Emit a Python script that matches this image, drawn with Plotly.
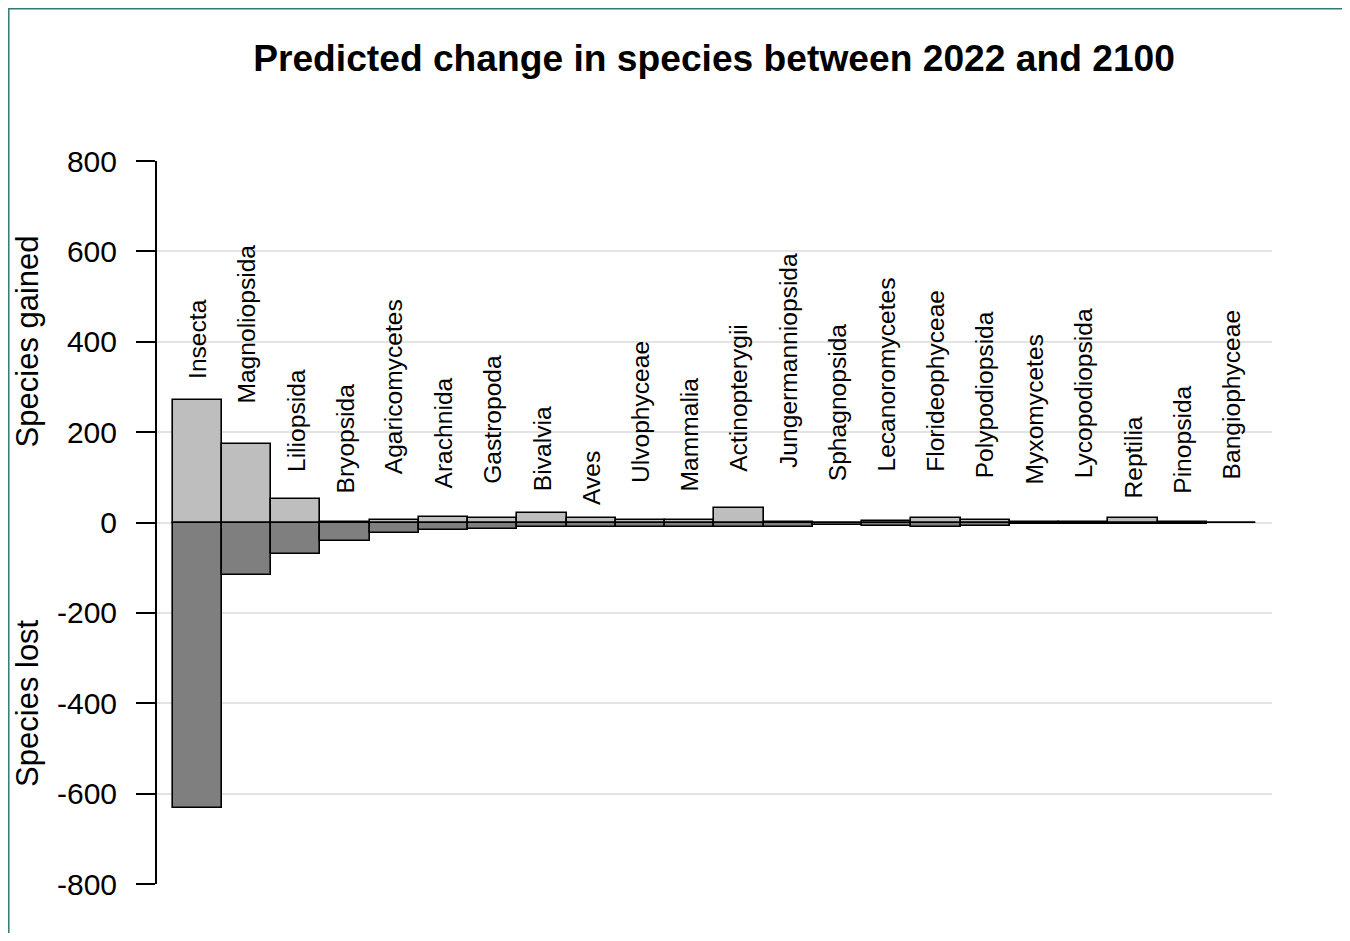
import plotly.graph_objects as go

# ---- data ----
categories = ["Insecta", "Magnoliopsida", "Liliopsida", "Bryopsida", "Agaricomycetes",
              "Arachnida", "Gastropoda", "Bivalvia", "Aves", "Ulvophyceae", "Mammalia",
              "Actinopterygii", "Jungermanniopsida", "Sphagnopsida", "Lecanoromycetes",
              "Florideophyceae", "Polypodiopsida", "Myxomycetes", "Lycopodiopsida",
              "Reptilia", "Pinopsida", "Bangiophyceae"]
species_gained = [271, 174, 53, 1, 5, 13, 11, 20, 10, 5, 6, 31, 2, 0, 4, 11, 5, 1, 1, 9, 2, 0]
species_lost = [-632, -116, -69, -42, -24, -17, -15, -9, -11, -9, -9, -9, -9, -6, -7, -10, -7, -3, -3, -4, -3, -1]
# vertical position (data units) where each rotated category label starts
label_y = [314, 259, 108, 60, 102, 71, 82, 64, 35, 82, 64, 108, 116, 86, 108, 108, 93, 79, 93, 49, 60, 90]
ytick_vals = [-800, -600, -400, -200, 0, 200, 400, 600, 800]
ytick_text = ["-800", "-600", "-400", "-200", "0", "200", "400", "600", "800"]

FONT = "Liberation Sans, Arial, sans-serif"
xpos = list(range(len(categories)))

W, H = 1334, 925
L, R, T, B = 149, 70, 153, 49
PW, PH = W - L - R, H - T - B

fig = go.Figure()
fig.add_trace(go.Bar(x=xpos, y=species_gained, name="Species gained",
                     marker=dict(color="#bebebe", line=dict(color="black", width=1.6)),
                     width=1.0))
fig.add_trace(go.Bar(x=xpos, y=species_lost, name="Species lost",
                     marker=dict(color="#7f7f7f", line=dict(color="black", width=1.6)),
                     width=1.0))

for i, (name, ly) in enumerate(zip(categories, label_y)):
    fig.add_annotation(x=i, y=ly, xref="x", yref="y", text=name, textangle=-90,
                       showarrow=False, xanchor="center", yanchor="bottom",
                       font=dict(family=FONT, size=24.6, color="black"))

fig.add_annotation(x=-0.116, y=400, xref="paper", yref="y", text="Species gained",
                   textangle=-90, showarrow=False, xanchor="center", yanchor="middle",
                   font=dict(family=FONT, size=31, color="black"))
fig.add_annotation(x=-0.116, y=-400, xref="paper", yref="y", text="Species lost",
                   textangle=-90, showarrow=False, xanchor="center", yanchor="middle",
                   font=dict(family=FONT, size=31, color="black"))

# outer frame
fig.add_shape(type="rect", xref="paper", yref="paper",
              x0=(0.8 - L) / PW, x1=(1340 - L) / PW,
              y0=-0.2, y1=(PH + T - 0.8) / PH,
              line=dict(color="#2f7a72", width=1.5),
              fillcolor="white", layer="below")

fig.update_layout(
    width=W, height=H,
    margin=dict(l=L, r=R, t=T, b=B),
    paper_bgcolor="#f0f1ed", plot_bgcolor="rgba(0,0,0,0)",
    barmode="relative", bargap=0, showlegend=False,
    title=dict(text="<b>Predicted change in species between 2022 and 2100</b>",
               x=0.4996, xref="paper", xanchor="center",
               y=1 - 50 / H, yref="container", yanchor="middle",
               font=dict(family=FONT, size=37.2, color="black")),
    font=dict(family=FONT, color="black"),
)
fig.update_xaxes(range=[-0.819, 21.82], showticklabels=False, showgrid=False,
                 zeroline=False, showline=False, ticks="")
fig.update_yaxes(range=[-800, 800], tickvals=ytick_vals, ticktext=ytick_text,
                 showgrid=True, gridcolor="#e3e3e3", gridwidth=2,
                 zeroline=False, showline=True, linecolor="black", linewidth=2,
                 ticks="outside", ticklen=19, tickwidth=2, tickcolor="black",
                 ticklabelstandoff=13,
                 tickfont=dict(family=FONT, size=30, color="black"))

fig.write_html("out.html")
